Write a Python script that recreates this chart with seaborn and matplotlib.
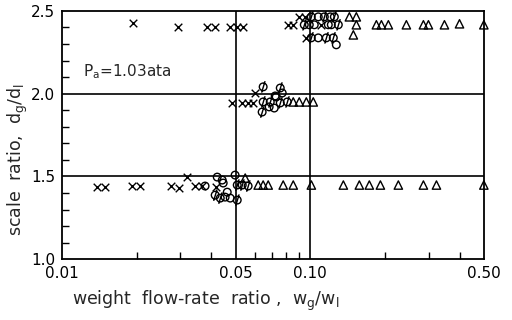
import numpy as np
import pandas as pd
import matplotlib
matplotlib.use("Agg")
import matplotlib.pyplot as plt
from matplotlib.path import Path
from matplotlib.ticker import FixedLocator, NullFormatter
import seaborn as sns

# ---- data ----
cross_x = [0.0193, 0.0294, 0.0384, 0.0414, 0.0476, 0.0508, 0.0537, 0.0815, 0.0854,
           0.0903, 0.0955, 0.0964, 0.1108,
           0.0485, 0.0532, 0.0562, 0.0589, 0.0600,
           0.0138, 0.0149, 0.0192, 0.0206, 0.0275, 0.0296, 0.0319, 0.0344, 0.0365, 0.0416]
cross_y = [2.428, 2.404, 2.404, 2.404, 2.404, 2.404, 2.404, 2.416, 2.416,
           2.464, 2.464, 2.337, 2.416,
           1.944, 1.944, 1.944, 1.944, 2.004,
           1.436, 1.436, 1.442, 1.442, 1.442, 1.430, 1.496, 1.442, 1.442, 1.436]

circle_x = [0.1077, 0.1204, 0.0991, 0.1038, 0.1182, 0.1215, 0.1077, 0.1273,
            0.0729, 0.0683, 0.0716, 0.0771, 0.0722,
            0.0422, 0.0498, 0.0442, 0.0377, 0.0454, 0.0476, 0.0463, 0.0446]
circle_y = [2.464, 2.464, 2.416, 2.416, 2.416, 2.416, 2.337, 2.295,
            1.980, 1.920, 1.913, 2.004, 1.986,
            1.496, 1.508, 1.478, 1.442, 1.375, 1.369, 1.405, 1.460]

slash_x = [0.1009, 0.1139, 0.1250, 0.0946, 0.1297, 0.1009, 0.1160, 0.1238,
           0.0646, 0.0646, 0.0640, 0.0690, 0.0757, 0.0757, 0.0808,
           0.0414, 0.0434, 0.0508, 0.0508, 0.0532, 0.0562]
slash_y = [2.464, 2.464, 2.464, 2.416, 2.416, 2.337, 2.337, 2.337,
           2.041, 1.950, 1.889, 1.950, 2.034, 1.944, 1.950,
           1.387, 1.369, 1.357, 1.448, 1.448, 1.442]

tri_x = [0.1437, 0.1533, 0.1533, 0.1491, 0.1846, 0.1934, 0.2063, 0.2438, 0.2855,
         0.2991, 0.3470, 0.3990, 0.5000,
         0.0854, 0.0903, 0.0964, 0.1028,
         0.0547, 0.0617, 0.0646, 0.0677, 0.0778, 0.0854, 0.1010,
         0.1359, 0.1576, 0.1729, 0.1916, 0.2263, 0.2855, 0.3222, 0.5000]
tri_y = [2.464, 2.464, 2.416, 2.355, 2.416, 2.416, 2.416, 2.416, 2.416,
         2.416, 2.416, 2.422, 2.416,
         1.950, 1.950, 1.950, 1.950,
         1.490, 1.448, 1.448, 1.448, 1.448, 1.448, 1.448,
         1.448, 1.448, 1.448, 1.448, 1.448, 1.448, 1.448, 1.448]

x_major = [0.01, 0.05, 0.10, 0.50]
x_labels = ["0.01", "0.05", "0.10", "0.50"]
y_major = [1.0, 1.5, 2.0, 2.5]
y_labels = ["1.0", "1.5", "2.0", "2.5"]

# ---- style ----
sns.set_style("ticks")
plt.rcParams['font.family'] = ['DejaVu Sans']
plt.rcParams['mathtext.default'] = 'regular'

fig = plt.figure(figsize=(5.12, 3.2), dpi=100)
ax = fig.add_axes([0.121, 0.19, 0.824, 0.776])

# circle-with-slash marker
circ = Path.unit_circle()
slash = Path([(-0.4, -1.5), (0.5, 1.5)], [Path.MOVETO, Path.LINETO])
slash_marker = Path.make_compound_path(circ, slash)

common = dict(ax=ax, clip_on=False, zorder=3, legend=False)
sns.scatterplot(x=cross_x, y=cross_y, marker='x', color='black', linewidth=1.0, s=30, **common)
sns.scatterplot(x=circle_x, y=circle_y, marker='o', facecolor='none', edgecolor='black',
                linewidth=1.0, s=30, **common)
sns.scatterplot(x=slash_x, y=slash_y, marker=slash_marker, facecolor='none', edgecolor='black',
                linewidth=1.0, s=68, **common)
sns.scatterplot(x=tri_x, y=tri_y, marker='^', facecolor='none', edgecolor='black',
                linewidth=1.0, s=36, **common)

ax.set_xscale('log')
ax.set_xlim(0.01, 0.5)
ax.set_ylim(1.0, 2.5)

for v in (1.5, 2.0):
    ax.axhline(v, color='black', lw=1.2, zorder=1)
for v in (0.05, 0.10):
    ax.axvline(v, color='black', lw=1.2, zorder=1)

for sp in ax.spines.values():
    sp.set_color('black')
    sp.set_linewidth(1.3)

ax.xaxis.set_major_locator(FixedLocator(x_major))
ax.set_xticklabels(x_labels)
ax.xaxis.set_minor_locator(FixedLocator([0.02, 0.03, 0.04, 0.06, 0.07, 0.08, 0.09,
                                         0.2, 0.3, 0.4]))
ax.xaxis.set_minor_formatter(NullFormatter())
ax.set_yticks(y_major)
ax.set_yticklabels(y_labels)
ax.yaxis.set_minor_locator(FixedLocator([1.1, 1.2, 1.3, 1.4, 1.6, 1.7, 1.8, 1.9,
                                         2.1, 2.2, 2.3, 2.4]))
ax.tick_params(axis='both', which='major', length=0, labelsize=11, pad=5,
               colors='black')
ax.tick_params(axis='both', which='minor', direction='in', length=5, width=1.0,
               colors='black')

ax.text(0.0122, 2.13, "P$_a$=1.03ata", fontsize=11, va='center', ha='left')

ax.set_xlabel("weight  flow-rate  ratio ,  w$_g$/w$_l$", fontsize=12.5)
ax.xaxis.set_label_coords(0.34, -0.12)
ax.set_ylabel("scale  ratio,  d$_g$/d$_l$", fontsize=12.5)
ax.yaxis.set_label_coords(-0.075, 0.40)

fig.savefig("out.png", dpi=100)
